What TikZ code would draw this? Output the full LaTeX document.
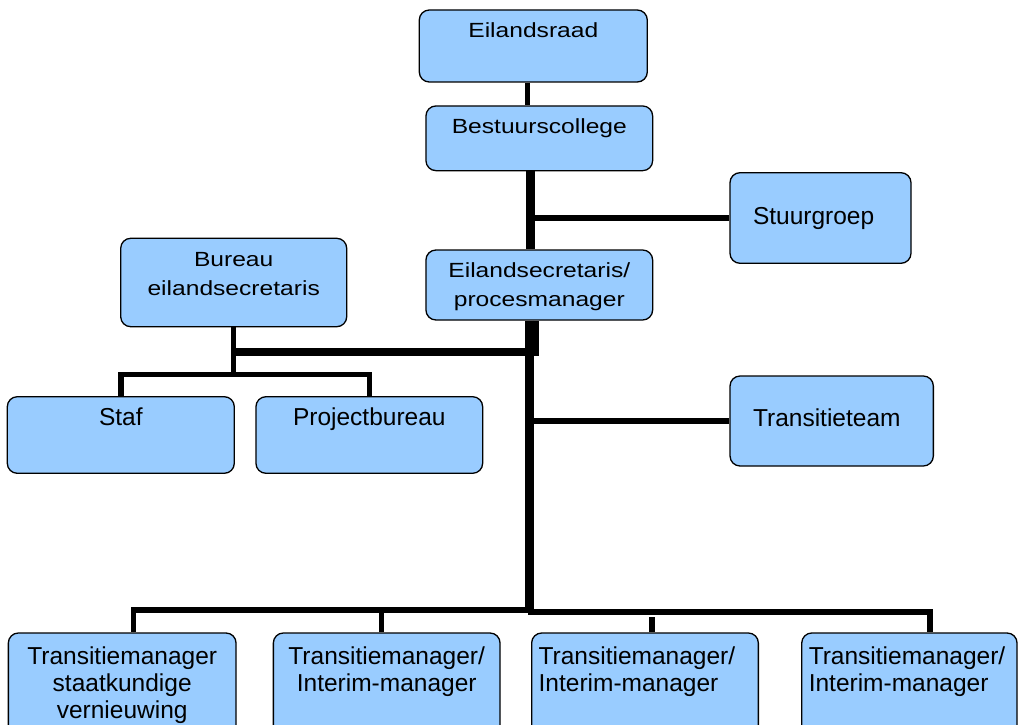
\documentclass[tikz,border=0pt]{standalone}
\usepackage{fontspec}
\setmainfont{Liberation Sans}
\newfontfamily\widefont[FakeStretch=1.2]{Liberation Sans}
\usepackage{xcolor}
\usepackage{tikz}

\definecolor{orgblue}{HTML}{99CCFF}
\newcommand{\topfont}{\widefont\fontsize{20.5}{29}\selectfont}
\newcommand{\boxfont}{\fontsize{24.5}{27}\selectfont}

\begin{document}
\begin{tikzpicture}[x=1pt,y=-1pt]
  \tikzset{orgbox/.style={draw,line width=1.3pt,fill=orgblue,rounded corners=10pt,inner sep=0pt,align=center},
    topbox/.style={orgbox,font=\topfont},
    mainbox/.style={orgbox,font=\boxfont},
    link/.style={line width=5.5pt},
    bus/.style={line width=8pt},
    trunk/.style={line width=9pt}}
  \path[use as bounding box,fill=white] (0,0) rectangle (1018,725);
  % boxes
  \node[topbox,text width=228pt,text height=27.3pt,text depth=44.7pt] (raad) at (533.3,46) {Eilandsraad};
  \node[topbox,text width=226.7pt,text height=27.3pt,text depth=37.4pt] (bestuur) at (539.3,138.3) {Bestuurscollege};
  \node[topbox,text width=226.7pt,text height=27.7pt,text depth=42.3pt] (esec) at (539.3,285) {Eilandsecretaris/\\procesmanager};
  \node[topbox,text width=226pt,text height=28.4pt,text depth=60pt] (bureau) at (233.7,282.5) {Bureau\\eilandsecretaris};
  \node[mainbox,text width=227pt,text height=28.3pt,text depth=48.3pt] (staf) at (120.8,435) {Staf};
  \node[mainbox,text width=226.7pt,text height=28.3pt,text depth=48.3pt] (proj) at (369.3,435) {Projectbureau};
  \node[mainbox,align=left,inner xsep=23pt,text width=135pt,text height=51.6pt,text depth=39pt] (stuur) at (820.5,218) {Stuurgroep};
  \node[mainbox,align=left,inner xsep=23pt,text width=157.3pt,text height=50.7pt,text depth=39.3pt] (team) at (831.7,421) {Transitieteam};
  \node[mainbox,text width=227.7pt,text height=31pt,text depth=79pt] (tm1) at (122.2,688) {Transitiemanager\\staatkundige\\vernieuwing};
  \node[mainbox,text width=226.7pt,text height=31pt,text depth=79pt] (tm2) at (386.7,688) {Transitiemanager/\\Interim-manager};
  \node[mainbox,align=left,inner xsep=7pt,text width=212.7pt,text height=31pt,text depth=79pt] (tm3) at (645,688) {Transitiemanager/\\Interim-manager};
  \node[mainbox,align=left,inner xsep=7pt,text width=201.3pt,text height=31pt,text depth=79pt] (tm4) at (909.4,688) {Transitiemanager/\\Interim-manager};
  % connectors
  \coordinate (split) at (535,351.7);
  \coordinate (sub) at (234,374.5);
  \coordinate (foot) at (529.2,613.3);
  \coordinate (busL) at (529.2,610);
  \coordinate (busR) at (528.3,611.8);
  \draw[link] ([xshift=-5.8pt]raad.south) -- ([xshift=-5.8pt]raad.south |- bestuur.north);
  \draw[trunk] ([xshift=-8.5pt]bestuur.south) -- ([xshift=-8.5pt]bestuur.south |- esec.north);
  \draw[trunk] ([xshift=-10.1pt]esec.south) -- (foot);
  \draw[link] (stuur.west) -- (stuur.west -| foot);
  \draw[link] (team.west) -- (team.west -| foot);
  \draw[bus] (bureau.south |- split) -- (split) -- (split |- esec.south);
  \draw[link] (bureau.south) -- (bureau.south |- sub);
  \draw[link] (staf.north) |- (sub) -| (proj.north);
  \draw[link] (busL) -| ([xshift=11.1pt]tm1.north);
  \draw[link] ([xshift=-5.2pt]tm2.north) -- ([xshift=-5.2pt]tm2.north |- busL);
  \draw[link] (busR) -| ([xshift=20.8pt]tm4.north);
  \draw[link] ([xshift=6.8pt]tm3.north) -- ++(0,-15.3);
\end{tikzpicture}
\end{document}
